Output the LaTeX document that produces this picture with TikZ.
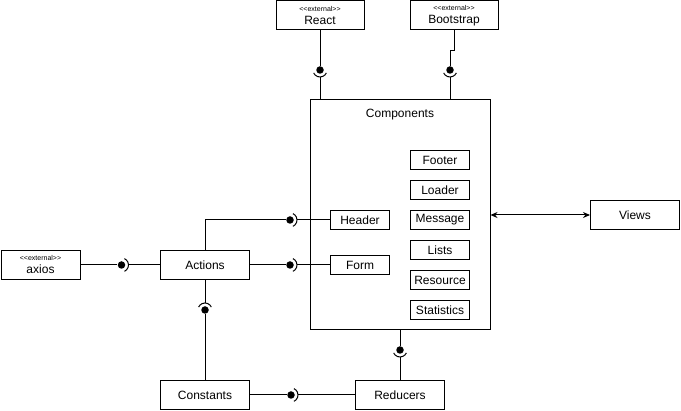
\documentclass[tikz,border=0pt]{standalone}
\usepackage{fontspec}
\setmainfont{Liberation Sans}
\usetikzlibrary{arrows.meta}
\newcommand{\ext}{{\fontsize{7}{8}\selectfont <\kern0pt<external>\kern0pt>}}
\begin{document}
\begin{tikzpicture}[x=1pt,y=1pt,line width=1pt,
  box/.style={draw,line width=1pt,minimum width=#1,minimum height=29pt,inner sep=0pt,
    font=\fontsize{12}{14}\selectfont},
  box/.default=89pt,
  extbox/.style={box=#1,align=center,font=\fontsize{12}{12}\selectfont},
  extbox/.default=88pt,
  part/.style={draw,line width=1pt,minimum width=59pt,minimum height=19pt,inner sep=0pt,
    font=\fontsize{12}{14}\selectfont},
  ball/.style={circle,fill=black,draw=none,inner sep=0pt,minimum size=7.5pt},
  socket/.style={line width=1pt},
  link/.style={line width=1pt}]
\useasboundingbox (0,0) rectangle (681,-411);

% external libraries
\node[extbox] (react) at (320,-15.5) {\ext\\[1pt]React};
\node[extbox] (boot) at (454,-15.5) {\ext\\[1pt]Bootstrap};
\node[extbox=79pt] (axios) at (40.5,-265) {\ext\\[1pt]axios};

% component container and its parts
\node[draw,line width=1pt,minimum width=180pt,minimum height=230pt,inner sep=0pt] (comp) at (400,-215) {};
\node[font=\fontsize{12}{14}\selectfont] (comptitle) at (400,-115) {Components};
\node[part] (footer) at (440,-160) {Footer};
\node[part] (loader) at (440,-190) {Loader};
\node[part] (message) at (440,-220) {Message};
\node[part] (lists) at (440,-250) {Lists};
\node[part] (resource) at (440,-280) {Resource};
\node[part] (stats) at (440,-310) {Statistics};
\node[part] (header) at (360,-220) {Header};
\node[part] (form) at (360,-265) {Form};

% other modules
\node[box] (actions) at (205,-265) {Actions};
\node[box] (views) at (635,-215) {Views};
\node[box] (constants) at (205,-395) {Constants};
\node[box] (reducers) at (400,-395) {Reducers};

% provided interfaces (balls)
\node[ball] (reactball) at (320,-70) {};
\node[ball] (bootball) at (450,-70) {};
\node[ball] (axiosball) at (121.5,-265) {};
\node[ball] (headerball) at (290,-220) {};
\node[ball] (formball) at (290,-265) {};
\node[ball] (constball) at (205,-310) {};
\node[ball] (redball) at (291,-395) {};
\node[ball] (compball) at (400,-350) {};

% React -> Components
\draw[link] (react) -- (reactball);
\draw[socket] ([shift={(205:7)}]reactball.center) arc[start angle=205,end angle=335,radius=7];
\draw[link] ([yshift=-7]reactball.center) -- (reactball |- comp.north);

% Bootstrap -> Components
\draw[link] (boot.south) -- ++(0,-20) -| (bootball);
\draw[socket] ([shift={(205:7)}]bootball.center) arc[start angle=205,end angle=335,radius=7];
\draw[link] ([yshift=-7]bootball.center) -- (bootball |- comp.north);

% axios -> Actions
\draw[link] (axios) -- (axiosball);
\draw[socket] ([shift={(-65:7)}]axiosball.center) arc[start angle=-65,end angle=65,radius=7];
\draw[link] ([xshift=7]axiosball.center) -- (actions);

% Actions -> Header
\draw[link] (actions.north) |- (headerball);
\draw[socket] ([shift={(-65:7)}]headerball.center) arc[start angle=-65,end angle=65,radius=7];
\draw[link] ([xshift=7]headerball.center) -- (header);

% Actions -> Form
\draw[link] (actions) -- (formball);
\draw[socket] ([shift={(-65:7)}]formball.center) arc[start angle=-65,end angle=65,radius=7];
\draw[link] ([xshift=7]formball.center) -- (form);

% Constants -> Actions
\draw[link] (constants) -- (constball);
\draw[socket] ([shift={(25:7)}]constball.center) arc[start angle=25,end angle=155,radius=7];
\draw[link] ([yshift=7]constball.center) -- (actions);

% Constants -> Reducers
\draw[link] (constants) -- (redball);
\draw[socket] ([shift={(-65:7)}]redball.center) arc[start angle=-65,end angle=65,radius=7];
\draw[link] ([xshift=7]redball.center) -- (reducers);

% Components -> Reducers
\draw[link] (comp) -- (compball);
\draw[socket] ([shift={(205:7)}]compball.center) arc[start angle=205,end angle=335,radius=7];
\draw[link] ([yshift=-7]compball.center) -- (reducers);

% Components <-> Views
\draw[link,{Stealth[length=7pt,width=6pt]}-{Stealth[length=7pt,width=6pt]}] (comp) -- (views);
\end{tikzpicture}
\end{document}
